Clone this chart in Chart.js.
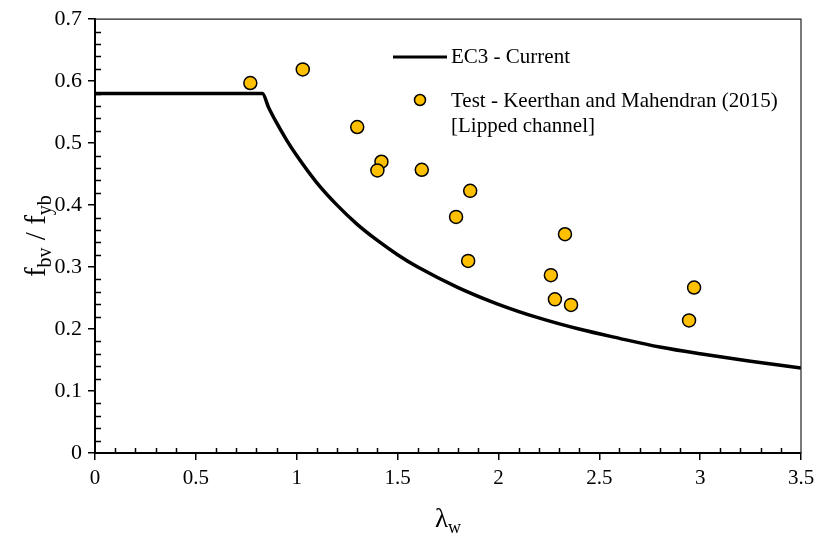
<!DOCTYPE html>
<html>
<head>
<meta charset="utf-8">
<script src="https://cdn.jsdelivr.net/npm/chart.js@4.4.1/dist/chart.umd.min.js"></script>
<style>
  body { margin: 0; background: #fff; }
</style>
</head>
<body>
<canvas id="chart" width="816" height="538"></canvas>
<script>
// EC3 design curve
const curveX = [0, 0.83, 0.86, 0.9, 0.95, 1.0, 1.1, 1.2, 1.3, 1.4, 1.5, 1.6, 1.8, 2.0, 2.2, 2.4, 2.6, 2.8, 3.0, 3.25, 3.5];
const curveY = [0.58, 0.58, 0.558, 0.533, 0.505, 0.48, 0.436, 0.40, 0.369, 0.343, 0.32, 0.30, 0.267, 0.24, 0.218, 0.20, 0.185, 0.171, 0.16, 0.148, 0.137];

// test results (lipped channel)
const testX = [0.77, 1.03, 1.30, 1.42, 1.40, 1.62, 1.86, 1.79, 1.85, 2.26, 2.33, 2.28, 2.36, 2.97, 2.945];
const testY = [0.597, 0.619, 0.526, 0.470, 0.456, 0.457, 0.423, 0.381, 0.310, 0.287, 0.353, 0.248, 0.239, 0.267, 0.214];

const seriesNames = ["EC3 - Current", "Test - Keerthan and Mahendran (2015)", "[Lipped channel]"];

const SERIF = "'Liberation Serif', 'Times New Roman', serif";
const yellow = "#FFC000";

function toPoints(xs, ys) {
    return xs.map((x, i) => ({ x: x, y: ys[i] }));
}

// minor ticks, box, axis titles and the legend inside the plot
const extras = {
    id: "extras",
    afterDraw(chart) {
        const ctx = chart.ctx;
        const a = chart.chartArea;
        const xs = chart.scales.x, ys = chart.scales.y;
        ctx.save();

        // top and right border
        ctx.strokeStyle = "#222";
        ctx.lineWidth = 1.2;
        ctx.beginPath();
        ctx.moveTo(a.left, a.top);
        ctx.lineTo(a.right, a.top);
        ctx.lineTo(a.right, a.bottom);
        ctx.stroke();

        // minor ticks (inside)
        ctx.strokeStyle = "#000";
        ctx.lineWidth = 1.5;
        ctx.beginPath();
        for (let i = 1; i < 35; i++) {
            if (i % 5 === 0) continue;
            const px = Math.round(xs.getPixelForValue(i / 10)) + 0.5;
            ctx.moveTo(px, a.bottom);
            ctx.lineTo(px, a.bottom - 5);
        }
        for (let i = 1; i < 35; i++) {
            if (i % 5 === 0) continue;
            const py = Math.round(ys.getPixelForValue(i * 0.02)) + 0.5;
            ctx.moveTo(a.left, py);
            ctx.lineTo(a.left + 6, py);
        }
        ctx.stroke();

        ctx.fillStyle = "#000";
        ctx.textBaseline = "alphabetic";

        // x title: lambda_w
        ctx.font = "27px " + SERIF;
        const lw = ctx.measureText("\u03bb").width;
        ctx.font = "18px " + SERIF;
        const ww = ctx.measureText("w").width;
        let sx = (a.left + a.right) / 2 - (lw + ww) / 2;
        ctx.font = "27px " + SERIF;
        ctx.fillText("\u03bb", sx, 527);
        ctx.font = "18px " + SERIF;
        ctx.fillText("w", sx + lw, 533);

        // y title: f_bv / f_yb
        const parts = [["f", 29, 0], ["bv", 20, 6], [" / f", 29, 0], ["yb", 20, 6]];
        let total = 0;
        parts.forEach(p => { ctx.font = p[1] + "px " + SERIF; total += ctx.measureText(p[0]).width; });
        ctx.translate(45, (a.top + a.bottom) / 2);
        ctx.rotate(-Math.PI / 2);
        let tx = -total / 2;
        parts.forEach(p => {
            ctx.font = p[1] + "px " + SERIF;
            ctx.fillText(p[0], tx, p[2]);
            tx += ctx.measureText(p[0]).width;
        });
        ctx.setTransform(1, 0, 0, 1, 0, 0);

        // legend
        ctx.strokeStyle = "#000";
        ctx.lineWidth = 3;
        ctx.beginPath();
        ctx.moveTo(393, 57);
        ctx.lineTo(447, 57);
        ctx.stroke();
        ctx.beginPath();
        ctx.arc(420, 100, 5.5, 0, Math.PI * 2);
        ctx.fillStyle = yellow;
        ctx.fill();
        ctx.lineWidth = 1.5;
        ctx.stroke();
        ctx.fillStyle = "#000";
        ctx.font = "21px " + SERIF;
        ctx.textBaseline = "middle";
        ctx.fillText(seriesNames[0], 451, 57);
        ctx.fillText(seriesNames[1], 451, 101);
        ctx.fillText(seriesNames[2], 451, 126);

        ctx.restore();
    }
};

new Chart(document.getElementById("chart"), {
    type: "scatter",
    data: {
        datasets: [
            {
                label: seriesNames[0],
                data: toPoints(curveX, curveY),
                showLine: true,
                borderColor: "#000",
                borderWidth: 3.5,
                pointRadius: 0,
                cubicInterpolationMode: "monotone",
                order: 2
            },
            {
                label: seriesNames[1],
                data: toPoints(testX, testY),
                pointRadius: 6.5,
                pointBackgroundColor: yellow,
                pointBorderColor: "#000",
                pointBorderWidth: 1.5,
                order: 1
            }
        ]
    },
    options: {
        responsive: false,
        animation: false,
        devicePixelRatio: 1,
        layout: { padding: { left: 0, top: 18, right: 15, bottom: 0 } },
        plugins: {
            legend: { display: false },
            tooltip: { enabled: false }
        },
        scales: {
            x: {
                type: "linear",
                min: 0,
                max: 3.5,
                afterFit: s => { s.height = 85; s.paddingLeft = 0; s.paddingRight = 0; },
                border: { color: "#000", width: 2 },
                grid: { drawOnChartArea: false, tickLength: 7, color: "#000", lineWidth: 1.5 },
                ticks: {
                    stepSize: 0.5,
                    color: "#000",
                    padding: 6,
                    maxRotation: 0,
                    font: { family: SERIF, size: 21 },
                    callback: v => String(+v.toFixed(1))
                }
            },
            y: {
                type: "linear",
                min: 0,
                max: 0.7,
                afterFit: s => { s.width = 95; },
                border: { color: "#000", width: 2 },
                grid: { drawOnChartArea: false, tickLength: 7, color: "#000", lineWidth: 1.5 },
                ticks: {
                    stepSize: 0.1,
                    color: "#000",
                    padding: 6,
                    font: { family: SERIF, size: 22 },
                    callback: v => String(+v.toFixed(1))
                }
            }
        }
    },
    plugins: [extras]
});
</script>
</body>
</html>
